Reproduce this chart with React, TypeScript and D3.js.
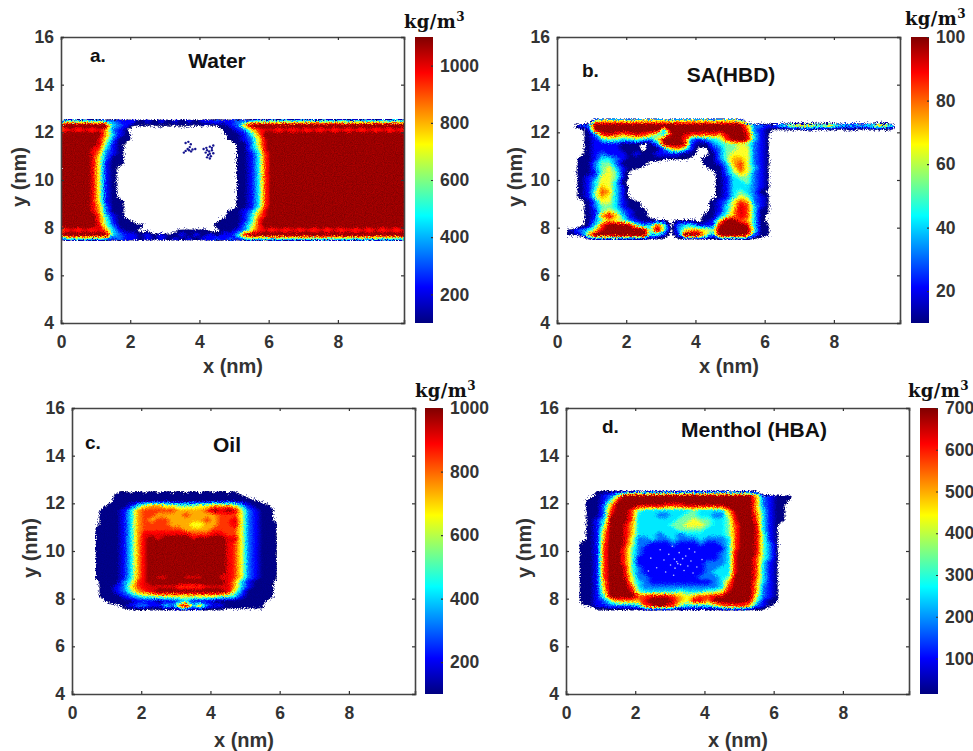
import React, { useRef, useEffect } from "react";
import * as d3 from "d3";

// density maps, one row per 0.2 nm from y = 12.7 down to 7.3,
// one char per 0.2 nm from x = 0.1. digit = tenth of the colour range, "." empty, "," just outside the edge
const waterRows = [
  "",
  "23232 21211 10101 01010 11211 21232 32323 23232 32323 23232",
  "99999 99321 00000 00000 00001 26999 99999 99999 99999 99999",
  "78787 86210 ..... ..... ...00 12578 87878 78787 87878 78787",
  "99999 96310 ,.... ..... ...,0 01369 99999 99999 99999 99999",
  "99999 85200 ,.... ..... ...,0 01258 99999 99999 99999 99999",
  "99999 8410, ..... ..... ..... 00258 99999 99999 99999 99999",
  "99998 7310, ..... ..... ..... 00248 99999 99999 99999 99999",
  "99998 6210, ..... ..... ..... 00137 99999 99999 99999 99999",
  "99998 5200, ..... ..... ..... 00137 99999 99999 99999 99999",
  "99998 5100, ..... ..... ..... 00137 99999 99999 99999 99999",
  "99998 510,. ..... ..... ..... 00137 99999 99999 99999 99999",
  "99998 510,. ..... ..... ..... 00137 99999 99999 99999 99999",
  "99998 510,. ..... ..... ..... 00137 99999 99999 99999 99999",
  "99998 510,. ..... ..... ..... 00137 99999 99999 99999 99999",
  "99998 510,. ..... ..... ..... 00137 99999 99999 99999 99999",
  "99998 510,. ..... ..... ..... 00137 99999 99999 99999 99999",
  "99998 510,. ..... ..... ..... 00137 99999 99999 99999 99999",
  "99998 5100, ..... ..... ..... 00137 99999 99999 99999 99999",
  "99998 6200, ..... ..... ..... 00137 99999 99999 99999 99999",
  "99998 6200, ..... ..... ...,0 01258 99999 99999 99999 99999",
  "99999 7310, ..... ..... ...,0 01368 99999 99999 99999 99999",
  "99999 74100 ,.... ..... ..,00 01379 99999 99999 99999 99999",
  "99999 84200 00,.. ..... .,000 02479 99999 99999 99999 99999",
  "78787 86310 0,,.. .,000 0,,00 12578 78787 87878 78787 87878",
  "99999 99321 10101 00101 01011 38999 99999 99999 99999 99999",
  "23232 32121 10101 01010 11212 12323 23232 32323 23232 32323",
  "",
];

const hbdRows = [
  "",
  "..... 45555 45555 54555 55455 54",
  "..022 99999 99999 99999 99999 99622 12356 66556 43333 4663.",
  "...,0 89999 99999 39999 99999 99721 0,,,, ,0,,, ,,0,, ,,,,.",
  "...,0 27876 78764 38987 77768 99831 0",
  "...,0 13443 34325 99972 12347 99831 0",
  "...,0 11110 00,02 89981 00234 45421 0",
  "...,0 11110 00,00 25641 ,,124 45521 0",
  "...,0 12111 01001 11100 ,,024 55521 0",
  "..,00 13321 00000 0000, ,0024 66521 0",
  "..,00 24420 000,, ..... ,0013 67521 0",
  "..,00 24531 00,.. ..... ,,002 57531 0",
  "..,00 14541 ,.... ..... .,,02 46521 0",
  "..,01 25541 ,.... ..... .,,01 34421 0",
  "..,01 35530 ,.... ..... .,,01 33421 0",
  "..,01 36531 ,.... ..... .,,01 33321 0",
  "..,01 47631 ,.... ..... .,,01 34320 ,",
  "..,01 46531 ,.... ..... .,,01 35421 0",
  "...,0 25531 00,.. ..... .,012 57621 0",
  "...,0 24431 00,.. ..... .,013 58731 0",
  "...,0 14542 100,. ..... .,013 68730 0",
  "...,0 16863 100,. ..... ,0024 68730 ,",
  "...,0 24654 21000 0,000 ,0159 97630 ,",
  "...,0 37999 84237 4,233 11189 99830 0",
  ".0123 58999 99949 4,256 65499 99940 0",
  ".0016 99999 99933 1,199 95299 99820 0",
  "...., 00000 000,, ,.,,, ,,,00 000,,",
  "",
];

const oilRows = [
  "",
  "..... .,0,0 ,0,0, 0,0,0 ,0,0.",
  "....., 00000 00000 00000 0000,",
  "....., 0000 00000 00000 00000 00,",
  "...., 00013 56655 44455 66653 1000",
  "...,0 00136 77777 66667 98985 2100,",
  "...,0 00136 77666 67666 67775 2100,",
  "...,0 00136 76776 66667 67785 2100,",
  "...,0 00136 77776 66556 67785 21000",
  "...00 00136 77777 76666 77775 21000",
  "...00 00136 88888 88777 88775 21000",
  "...00 00136 89899 99899 99885 21000",
  "...00 00136 89999 99999 99875 21000",
  "...00 00136 89999 99999 99875 21000",
  "...00 00136 89999 99999 99875 21000",
  "...00 00136 89999 99999 99875 21000",
  "...00 00136 89999 99999 99875 21000",
  "...00 00136 89999 99999 99875 21000",
  "...00 00136 89999 99999 99875 21000",
  "...00 00136 89889 98889 98875 21000",
  "...,0 00247 89999 99999 99863 1000,",
  "...,0 01257 88888 77778 88863 1000,",
  "...,0 01246 78999 99999 99852 0000,",
  "...,0 00123 44555 55555 54431 0000,",
  "...., 00001 11011 23111 00000 000,",
  "..... ,,012 21132 69362 11000 000",
  "..... ..,,, ,,,,, ,,,,, ,,,,, ,,,",
  "",
];

const mentholRows = [
  "",
  "....0 00000 10101 01010 10100 000",
  "...,0 12599 99999 99999 99999 99621 000",
  "..,00 14899 99999 99999 99999 99621 00,",
  "..,00 26999 88887 77888 88899 99621 00",
  "..,00 27997 43333 33343 33369 99631 00",
  "..,00 28997 33322 33443 32258 99731 00",
  "..,01 39997 33333 34454 43348 99731 00",
  "..,01 49986 33333 44555 43347 99831 0",
  "..,01 59986 33333 34444 33347 99831 0",
  "..,01 69986 33323 32333 33347 99841 0",
  "..,01 69985 22322 32223 22237 99841 0",
  ".,001 79985 22111 21112 11237 99842 0",
  ".,001 79974 21111 11111 11137 99842 0",
  ".,001 79974 21111 11111 11238 99842 0",
  ".,001 79974 11111 11111 11238 99742 0",
  ".,001 79974 11111 11111 22238 99731 0",
  ".,001 79984 21111 11111 22338 99731 0",
  ".,001 79984 21111 11111 23338 99731 0",
  ".,001 79985 22111 11112 22349 99731 0",
  ".,001 69995 32111 11111 12369 99631 0",
  ".,001 69997 32222 22222 22379 99621 0",
  ".,001 59998 43333 34333 44589 99621 0",
  ".,001 49999 77888 76567 78899 99521 0",
  ".,001 24666 68999 86588 69999 98410 0",
  "..,01 12222 37898 74333 34677 76210",
  "...., ,,,,, ,,,,, ,,,,, ,,,,, ,,,,",
  "",
];

// loose specks, x and y in nm
const waterSpecks = [
  [3.6, 11.55], [3.68, 11.6], [3.75, 11.5], [3.72, 11.38], [3.66, 11.3], [3.7, 11.25], [3.8, 11.28], [3.88, 11.3],
  [3.55, 11.15], [3.76, 11.2], [3.6, 11.22], [4.12, 11.3], [4.2, 11.35], [4.3, 11.4], [4.4, 11.45], [4.18, 11.15], [4.28, 11.2],
  [4.36, 11.25], [4.25, 11.05], [4.33, 11], [4.22, 10.95], [4.4, 11.12], [4.3, 10.9], [4.3, 11.1], [4.36, 11.35], [4.22, 11.25],
];
const mentholSpecks = [
  [2.45, 9.7], [2.62, 9.3], [2.72, 10.05], [2.83, 9.62], [2.88, 9.12], [2.97, 9.86], [3.02, 9.41], [3.07, 10.2], [3.13, 9.66],
  [3.15, 9.28], [3.2, 9.55], [3.23, 9.47], [3.27, 9.93], [3.31, 9.43], [3.37, 9.68], [3.41, 9.18], [3.46, 9.79], [3.52, 9.37],
  [3.61, 9.58], [3.67, 9.08], [3.72, 9.96], [3.78, 9.33], [3.93, 9.64], [2.38, 9.16], [3.56, 10.09], [3.11, 8.98],
];

const xTicks = [0, 2, 4, 6, 8];
const yTicks = [4, 6, 8, 10, 12, 14, 16];
const waterBarTicks = [200, 400, 600, 800, 1000];
const hbdBarTicks = [20, 40, 60, 80, 100];
const oilBarTicks = [200, 400, 600, 800, 1000];
const mentholBarTicks = [100, 200, 300, 400, 500, 600, 700];

const panels = [
  { id: "a", rows: waterRows, specks: waterSpecks, speckColor: "#14148f", speckR: 1.2, tag: "a.", title: "Water", barDomain: [100, 1100], barTicks: waterBarTicks,
    left: 61, top: 37, barX: 415, tagX: 90, tagY: 62, titleX: 217, titleY: 68, unitX: 404, unitY: 28, xLabelDy: 50 },
  { id: "b", rows: hbdRows, specks: [], speckColor: "#fff", speckR: 1, tag: "b.", title: "SA(HBD)", barDomain: [10, 100], barTicks: hbdBarTicks,
    left: 557, top: 37, barX: 911, tagX: 582, tagY: 77, titleX: 731, titleY: 82, unitX: 905, unitY: 25, xLabelDy: 50 },
  { id: "c", rows: oilRows, specks: [], speckColor: "#fff", speckR: 1, tag: "c.", title: "Oil", barDomain: [100, 1000], barTicks: oilBarTicks,
    left: 72, top: 408, barX: 425, tagX: 85, tagY: 449, titleX: 227, titleY: 452, unitX: 415, unitY: 397, xLabelDy: 53 },
  { id: "d", rows: mentholRows, specks: mentholSpecks, speckColor: "#bfcaff", speckR: 0.8, tag: "d.", title: "Menthol (HBA)", barDomain: [15, 700], barTicks: mentholBarTicks,
    left: 566, top: 408, barX: 920, tagX: 602, tagY: 433, titleX: 754, titleY: 437, unitX: 908, unitY: 397, xLabelDy: 53 },
];

const W = 343;
const H = 286;
const BAR_W = 18;
const COLS = 50;
const ROWS = 28;
const font = "'Liberation Sans', Arial, sans-serif";
const ink = "#333";

// matlab jet
const jet = (t: number) => {
  const c = (v: number) => Math.round(255 * Math.max(0, Math.min(1, v)));
  return d3.rgb(c(1.5 - Math.abs(4 * t - 3)), c(1.5 - Math.abs(4 * t - 2)), c(1.5 - Math.abs(4 * t - 1))).formatHex();
};

const parseRows = (rows: string[]) =>
  rows.flatMap((r) => {
    const s = r.replace(/ /g, "").padEnd(COLS, ".");
    return Array.from(s).map((ch) => (ch === "." ? -12 : ch === "," ? -1 : +ch));
  });

function Panel({ cfg }: { cfg: (typeof panels)[number] }) {
  const ref = useRef<SVGGElement>(null);

  useEffect(() => {
    const g = d3.select(ref.current);
    g.selectAll("*").remove();
    const { left, top, barX } = cfg;
    const x = d3.scaleLinear().domain([0, 9.91]).range([left, left + W]);
    const y = d3.scaleLinear().domain([4, 16]).range([top + H, top]);
    const bar = d3.scaleLinear().domain(cfg.barDomain).range([top + H, top]);

    const levels = [-0.5, ...d3.range(0.125, 9, 0.25)];
    // the top of the map saturates a bit below 9
    const fillOf = (t: number) => (t < 0 ? jet(0) : jet(Math.min(1, (t + 0.125) / 8.5)));
    const contours = d3.contours().size([COLS, ROWS]).thresholds(levels).smooth(true)(parseRows(cfg.rows));
    const path = d3.geoPath(
      d3.geoTransform({
        point(px: number, py: number) {
          (this as any).stream.point(x(px * 0.2), y(12.8 - py * 0.2));
        },
      })
    );

    g.append("clipPath").attr("id", `clip-${cfg.id}`).append("rect")
      .attr("x", left).attr("y", top).attr("width", W).attr("height", H);
    const plot = g.append("g").attr("clip-path", `url(#clip-${cfg.id})`);
    // scattered fringe of the outermost band, under the map
    plot.append("g").attr("filter", "url(#fringe)").attr("opacity", 0.55)
      .append("path").attr("d", path(contours[0] as any)).attr("fill", jet(0));
    plot.append("g").attr("filter", "url(#grain)")
      .selectAll("path").data(contours).join("path")
      .attr("d", (d: any) => path(d))
      .attr("fill", (d: any) => fillOf(d.value));
    plot.append("g").attr("filter", "url(#soft)")
      .selectAll("circle").data(cfg.specks).join("circle")
      .attr("cx", (d: any) => x(d[0])).attr("cy", (d: any) => y(d[1])).attr("r", cfg.speckR)
      .attr("fill", cfg.speckColor);

    // box with ticks pointing in on all four sides
    const style = (a: any) => {
      a.selectAll("path").attr("stroke", "#444").attr("stroke-width", 1.6);
      a.selectAll("line").attr("stroke", "#333").attr("stroke-width", 1.2);
      a.selectAll("text").attr("font-family", font).attr("font-weight", 700).attr("font-size", 17.5).attr("fill", ink);
      a.attr("font-family", null).attr("font-size", null);
    };
    g.append("g").attr("transform", `translate(0,${top + H})`)
      .call(d3.axisBottom(x).tickValues(xTicks).tickSize(-3).tickPadding(13).tickFormat(d3.format("d")) as any).call(style);
    g.append("g").attr("transform", `translate(0,${top})`)
      .call(d3.axisTop(x).tickValues(xTicks).tickSize(-3).tickFormat(() => "") as any).call(style);
    g.append("g").attr("transform", `translate(${left},0)`)
      .call(d3.axisLeft(y).tickValues(yTicks).tickSize(-3).tickPadding(7).tickFormat(d3.format("d")) as any).call(style);
    g.append("g").attr("transform", `translate(${left + W},0)`)
      .call(d3.axisRight(y).tickValues(yTicks).tickSize(-3).tickFormat(() => "") as any).call(style);

    // colour bar
    const stops = d3.range(0, 1.001, 1 / 32);
    const grad = g.append("linearGradient").attr("id", `bar-${cfg.id}`)
      .attr("x1", 0).attr("x2", 0).attr("y1", 1).attr("y2", 0);
    grad.selectAll("stop").data(stops).join("stop")
      .attr("offset", (d) => d).attr("stop-color", (d) => jet(d));
    g.append("rect").attr("x", barX).attr("y", top).attr("width", BAR_W).attr("height", H)
      .attr("fill", `url(#bar-${cfg.id})`);
    g.append("g").attr("transform", `translate(${barX + BAR_W},0)`)
      .call(d3.axisRight(bar).tickValues(cfg.barTicks).tickSize(-2).tickPadding(7).tickFormat(d3.format("d")) as any)
      .call(style)
      .call((a: any) => a.select("path").attr("stroke", "none"));
  }, [cfg]);

  const { left, top } = cfg;
  const text = { fontFamily: font, fontWeight: 700 };
  return (
    <g>
      <g ref={ref} />
      <text x={cfg.tagX} y={cfg.tagY} fontSize={19} {...text} fill="#111">{cfg.tag}</text>
      <text x={cfg.titleX} y={cfg.titleY} fontSize={21} textAnchor="middle" {...text} fill="#111">{cfg.title}</text>
      <text x={left + 172} y={top + H + cfg.xLabelDy} fontSize={20} textAnchor="middle" {...text} fill={ink}>x (nm)</text>
      <text transform={`translate(${left - 35},${top + 140}) rotate(-90)`} fontSize={20} textAnchor="middle" {...text} fill={ink}>y (nm)</text>
      <text x={cfg.unitX} y={cfg.unitY} fontSize={18} letterSpacing={0.4} fontFamily="'DejaVu Serif', serif" fontWeight={700} fill="#111">
        kg/m<tspan fontSize={12} dy={-7}>3</tspan>
      </text>
    </g>
  );
}

export default function App() {
  return (
    <svg width={973} height={751} style={{ position: "absolute", left: 0, top: 0, background: "#fff" }}>
      <defs>
        <filter id="grain" x="0" y="0" width="100%" height="100%" colorInterpolationFilters="sRGB">
          <feTurbulence type="fractalNoise" baseFrequency="0.9" numOctaves={2} seed={4} result="n" />
          <feDisplacementMap in="SourceGraphic" in2="n" scale={6} xChannelSelector="R" yChannelSelector="G" result="moved" />
          <feColorMatrix in="n" type="matrix" values="1.6 0 0 0 -0.3  0 0 0 0 0  0.6 0 0 0 -0.15  0 0 0 0 1" result="tone" />
          <feComposite in="moved" in2="tone" operator="arithmetic" k1={0.4} k2={1} k3={0} k4={0} />
          <feGaussianBlur stdDeviation={0.6} />
        </filter>
        <filter id="fringe" x="0" y="0" width="100%" height="100%" colorInterpolationFilters="sRGB">
          <feTurbulence type="fractalNoise" baseFrequency="1.3" numOctaves={1} seed={9} result="n" />
          <feDisplacementMap in="SourceGraphic" in2="n" scale={14} xChannelSelector="R" yChannelSelector="G" />
          <feGaussianBlur stdDeviation={0.4} />
        </filter>
        <filter id="soft" x="0" y="0" width="100%" height="100%">
          <feGaussianBlur stdDeviation={0.5} />
        </filter>
      </defs>
      {panels.map((p) => (
        <Panel key={p.id} cfg={p} />
      ))}
    </svg>
  );
}
